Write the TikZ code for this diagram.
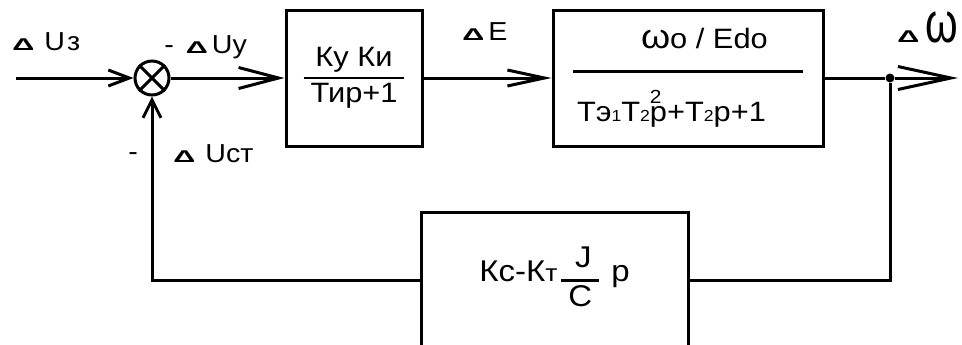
\documentclass[tikz,border=0pt]{standalone}
\usepackage{graphicx}
\usepackage{fontspec}
\setmainfont[FakeStretch=1.1]{Liberation Sans}
\newfontfamily\deltafont[FakeStretch=1.8]{Liberation Sans}
\usetikzlibrary{arrows.meta,positioning}
\newcommand{\dlt}{{\deltafont\bfseries\fontsize{8.5pt}{9pt}\selectfont Δ}}
\newcommand{\blockfrac}[3][1pt]{\begin{tabular}{@{\hspace{3.5pt}}c@{\hspace{3.5pt}}}#2\\\noalign{\hrule height #1}#3\end{tabular}}
\newcommand{\smalldigit}[1]{{\fontsize{8pt}{8pt}\selectfont #1}}
\tikzset{
  block node/.style={draw,line width=1.5pt,inner sep=0pt,align=center,
    minimum height=68pt,font=\fontsize{14pt}{17pt}\selectfont},
  sum node/.style={draw,circle,line width=1.5pt,minimum size=17pt,inner sep=0pt},
  tap node/.style={circle,fill,minimum size=4.5pt,inner sep=0pt},
  signal label/.style={anchor=base west,inner sep=0pt,font=\fontsize{13pt}{15pt}\selectfont},
  signal line/.style={line width=1.5pt},
  signal arrow/.style args={#1/#2}{line width=1.5pt,-{Straight Barb[length=#1,width=#2]}}
}
\begin{document}
\begin{tikzpicture}[x=0.5pt,y=-0.5pt]
  \useasboundingbox (0,0) rectangle (962,344);
  % blocks
  \node[sum node] (sum) at (152,78) {};
  \node[block node,minimum width=68pt] (reg) at (354,78) {\blockfrac{Ку Ки}{Тир+1}};
  \node[block node,minimum width=135pt] (motor) at (688,78) {%
    \begin{tabular}{@{}p{115pt}@{}}
      \hspace*{34pt}{\fontsize{17pt}{17pt}\selectfont ω}o / Edo\\[6pt]
      \noalign{\hrule height 1.5pt}
      \rule{0pt}{24pt}{\fontsize{14pt}{15pt}\selectfont \hspace*{2pt}Тэ\smalldigit{1}Т\smalldigit{2}\rlap{\raisebox{9pt}{\fontsize{9.5pt}{9pt}\selectfont 2}}p+Т\smalldigit{2}p+1}
    \end{tabular}};
  \node[block node,minimum width=133.5pt,font=\fontsize{15pt}{18pt}\selectfont] (fb) at (554.5,280)
    {Кс-К{\fontsize{12pt}{12pt}\selectfont т}\hspace{2pt}\raisebox{-3pt}{\blockfrac[1.5pt]{\hspace{3pt}J\hspace{3pt}}{C}}\hspace{6pt}p};
  \node[tap node] (tap) at (890,78) {};
  \coordinate (in) at (16,78);
  \coordinate (out) at (958,78);
  % cross in the summing junction
  \draw[signal line] (sum.north west) -- (sum.south east) (sum.north east) -- (sum.south west);
  % connectors
  \draw[signal arrow=10.5pt/8pt] (in) -- (sum);
  \draw[signal arrow=20pt/10.5pt] (sum) -- (reg);
  \draw[signal arrow=18.5pt/8pt] (reg) -- (motor);
  \draw[signal line] (motor) -- (tap);
  \draw[signal arrow=26.5pt/11.5pt] (tap) -- (out);
  \draw[signal line] (tap) |- (fb);
  \draw[signal arrow=9pt/9pt] (fb) -| (sum);
  % signal labels
  \node[signal label] (uz) at (12,50) {\dlt\hspace{5pt}U\hspace{1pt}з};
  \node[signal label] (uy) at (164,53) {-\hspace{6pt}\dlt\hspace{2pt}Uу};
  \node[signal label] (de) at (462,40) {\dlt\hspace{2pt}E};
  \node[signal label] (dw) at (897,42) {\dlt\hspace{3pt}\scalebox{1}[1.5]{\fontsize{19pt}{19pt}\selectfont ω}};
  \node[signal label] (minus) at (128,160) {-};
  \node[signal label] (ust) at (173,162) {\dlt\hspace{5pt}Uст};
\end{tikzpicture}
\end{document}
